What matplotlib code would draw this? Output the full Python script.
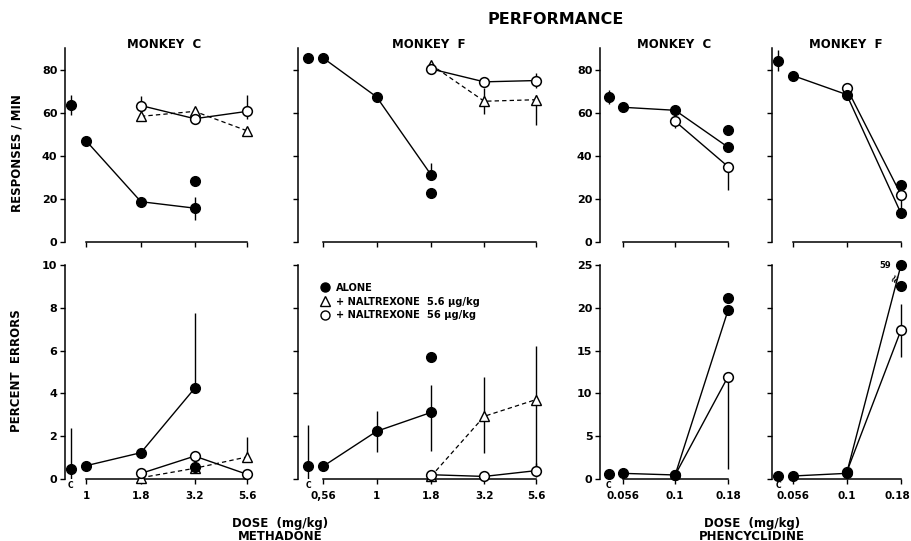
import numpy as np
import matplotlib
matplotlib.use("Agg")
import matplotlib.pyplot as plt
import matplotlib.transforms as mtransforms
from matplotlib.lines import Line2D

plt.rcParams['font.family'] = ['DejaVu Sans']
plt.rcParams['font.weight'] = 'bold'

W, H = 911, 541
nan = np.nan

# Doses (mg/kg) and tick labels
METH_C_DOSES = [1, 1.8, 3.2, 5.6]
METH_F_DOSES = [0.56, 1, 1.8, 3.2, 5.6]
PCP_DOSES = [0.056, 0.1, 0.18]
METH_C_LABELS = ['1', '1.8', '3.2', '5.6']
METH_F_LABELS = ['0,56', '1', '1.8', '3.2', '5.6']
PCP_LABELS = ['0.056', '0.1', '0.18']

MC_ALONE_DOSES = [1, 1.8, 3.2]
MC_NAL_DOSES = [1.8, 3.2, 5.6]
MC_EXTRA_DOSES = [3.2]
MF_ALONE_DOSES = [0.56, 1, 1.8]
MF_NAL_DOSES = [1.8, 3.2, 5.6]
MF_EXTRA_DOSES = [1.8]
PCP_ALONE_DOSES = [0.056, 0.1, 0.18]
PCP_NAL_DOSES = [0.1, 0.18]
PCP_EXTRA_DOSES = [0.18]

# Methadone, monkey C  (control = value, low, high)
mc_rate_ctrl = [63.5, 59.0, 68.0]
mc_rate_alone = [47.0, 18.7, 15.7]
mc_rate_alone_lo = [nan, nan, 10.0]
mc_rate_alone_hi = [nan, nan, 21.0]
mc_rate_alone_extra = [28.4]
mc_rate_nal5 = [58.3, 60.6, 51.6]
mc_rate_nal56 = [63.3, 57.2, 60.6]
mc_rate_nal56_lo = [nan, nan, 57.0]
mc_rate_nal56_hi = [67.6, nan, 68.0]

mc_err_ctrl = [0.48, 0.0, 2.37]
mc_err_alone = [0.62, 1.23, 4.24]
mc_err_alone_hi = [nan, nan, 7.74]
mc_err_alone_extra = [0.56]
mc_err_nal5 = [0.06, 0.5, 1.03]
mc_err_nal5_hi = [nan, nan, 1.98]
mc_err_nal56 = [0.26, 1.07, 0.22]

# Methadone, monkey F
mf_rate_ctrl = [85.4, nan, nan]
mf_rate_alone = [85.4, 67.3, 31.2]
mf_rate_alone_hi = [nan, nan, 36.7]
mf_rate_alone_extra = [22.6]
mf_rate_nal5 = [82.3, 65.3, 66.0]
mf_rate_nal5_lo = [nan, 59.5, 54.4]
mf_rate_nal5_hi = [nan, 71.6, 68.4]
mf_rate_nal56 = [80.3, 74.3, 74.9]
mf_rate_nal56_lo = [nan, nan, 71.6]
mf_rate_nal56_hi = [nan, nan, 78.6]

mf_err_ctrl = [0.59, 0.0, 2.54]
mf_err_alone = [0.59, 2.23, 3.11]
mf_err_alone_lo = [nan, 1.25, 1.29]
mf_err_alone_hi = [nan, 3.16, 4.41]
mf_err_alone_extra = [5.70]
mf_err_nal5 = [0.12, 2.93, 3.71]
mf_err_nal5_lo = [nan, 1.21, 0.1]
mf_err_nal5_hi = [nan, 4.77, 6.2]
mf_err_nal56 = [0.2, 0.12, 0.39]
mf_err_nal56_hi = [nan, nan, 0.75]

# Phencyclidine, monkey C
pc_rate_ctrl = [67.3, 64.0, 70.5]
pc_rate_alone = [62.5, 61.1, 44.0]
pc_rate_alone_extra = [51.8]
pc_rate_nal56 = [56.0, 35.0]
pc_rate_nal56_lo = [53.0, 23.9]

pc_err_ctrl = [0.58, nan, nan]
pc_err_alone = [0.66, 0.47, 19.7]
pc_err_alone_extra = [21.2]
pc_err_nal56 = [0.47, 11.95]
pc_err_nal56_lo = [nan, 1.2]

# Phencyclidine, monkey F
pf_rate_ctrl = [84.2, 79.5, 89.3]
pf_rate_alone = [77.2, 68.4, 13.3]
pf_rate_alone_extra = [26.5]
pf_rate_nal56 = [71.5, 21.9]
pf_rate_nal56_lo = [nan, 15.3]

pf_err_ctrl = [0.35, nan, nan]
pf_err_alone = [0.35, 0.66, 59.0]
pf_err_alone_extra = [22.5]
pf_err_nal56 = [0.78, 17.4]
pf_err_nal56_lo = [nan, 14.3]
pf_err_nal56_hi = [nan, 20.5]

STYLES = {
    'alone': dict(color='k', lw=1.0, ls='-', marker='o', ms=7, mfc='k', mec='k'),
    'nal5': dict(color='k', lw=0.9, ls=(0, (3.5, 2.5)), marker='^', ms=6.5, mfc='white', mec='k', mew=1.0),
    'nal56': dict(color='k', lw=1.0, ls='-', marker='o', ms=7, mfc='white', mec='k', mew=1.1),
    'extra': dict(ls='none', marker='o', ms=7, mfc='k', mec='k'),
}


def px_rect(x0, x1, y0, y1):
    return [x0 / W, 1 - y1 / H, (x1 - x0) / W, (y1 - y0) / H]


def log_xlim(x0, x1, d_first, d_last, p_first, p_last):
    a, b = np.log10(d_first), np.log10(d_last)
    s = (p_last - p_first) / (b - a)
    return 10 ** (a + (x0 - p_first) / s), 10 ** (a + (x1 - p_first) / s)


def draw(ax, doses, vals, kind, lo=None, hi=None, ymax=None):
    x = np.array(doses, float)
    y = np.array(vals, float)
    if ymax is not None:
        y = np.minimum(y, ymax)
    lo = np.full(len(y), nan) if lo is None else np.array(lo, float)
    hi = np.full(len(y), nan) if hi is None else np.array(hi, float)
    has = ~(np.isnan(lo) & np.isnan(hi))
    if has.any():
        ax.vlines(x[has], np.where(np.isnan(lo), y, lo)[has],
                  np.where(np.isnan(hi), y, hi)[has], color='k', lw=1.0, zorder=2)
    ax.plot(x, y, clip_on=False, zorder=3, **STYLES[kind])


def draw_ctrl(ax, dose0, ctrl):
    xc = dose0 / 10 ** 0.07
    if not np.isnan(ctrl[1]):
        ax.vlines([xc], [ctrl[1]], [ctrl[2]], color='k', lw=1.0, zorder=2)
    ax.plot([xc], [ctrl[0]], clip_on=False, zorder=3, **STYLES['extra'])


def setup(ax, doses, labels, ymax, yticks, show_y, show_x, xlim):
    ax.set_xscale('log')
    ax.set_xlim(*xlim)
    ax.set_ylim(0, ymax)
    ax.patch.set_alpha(0)
    for s in ('top', 'right'):
        ax.spines[s].set_visible(False)
    ax.spines['bottom'].set_bounds(doses[0], doses[-1])
    ax.spines['left'].set_linewidth(1.1)
    ax.spines['bottom'].set_linewidth(1.1)
    ax.minorticks_off()
    ax.set_xticks(doses)
    ax.set_xticklabels(labels if show_x else [])
    ax.set_yticks(yticks)
    ax.set_yticklabels([str(t) for t in yticks] if show_y else [])
    ax.tick_params(direction='out', length=3.5, width=1, labelsize=8, pad=2)
    ax.tick_params(axis='x', pad=5, labelsize=7.5)


fig = plt.figure(figsize=(W / 100, H / 100), dpi=100)

# (spine px, right px, doses, labels, first-dose px, last-dose px)
cols = [
    (65, 260, METH_C_DOSES, METH_C_LABELS, 86, 247),
    (298, 548, METH_F_DOSES, METH_F_LABELS, 323, 536),
    (600, 740, PCP_DOSES, PCP_LABELS, 623, 728),
    (772, 908, PCP_DOSES, PCP_LABELS, 793, 901),
]

top_axes, bot_axes = [], []
for i, (x0, x1, doses, labels, p0, p1) in enumerate(cols):
    xlim = log_xlim(x0, x1, doses[0], doses[-1], p0, p1)
    at = fig.add_axes(px_rect(x0, x1, 48, 242))
    setup(at, doses, labels, 90, [0, 20, 40, 60, 80], i in (0, 2), False, xlim)
    ab = fig.add_axes(px_rect(x0, x1, 265, 479))
    if i < 2:
        setup(ab, doses, labels, 10, [0, 2, 4, 6, 8, 10], i == 0, True, xlim)
    else:
        setup(ab, doses, labels, 25, [0, 5, 10, 15, 20, 25], i == 2, True, xlim)
    top_axes.append(at)
    bot_axes.append(ab)

# last label sits against the right edge: nudge it left a little
last = bot_axes[3].get_xticklabels()[-1]
last.set_transform(last.get_transform() + mtransforms.ScaledTranslation(-4 / 100, 0, fig.dpi_scale_trans))

# Methadone monkey C
ax = top_axes[0]
draw_ctrl(ax, METH_C_DOSES[0], mc_rate_ctrl)
draw(ax, MC_NAL_DOSES, mc_rate_nal5, 'nal5')
draw(ax, MC_NAL_DOSES, mc_rate_nal56, 'nal56', mc_rate_nal56_lo, mc_rate_nal56_hi)
draw(ax, MC_ALONE_DOSES, mc_rate_alone, 'alone', mc_rate_alone_lo, mc_rate_alone_hi)
draw(ax, MC_EXTRA_DOSES, mc_rate_alone_extra, 'extra')
ax = bot_axes[0]
draw_ctrl(ax, METH_C_DOSES[0], mc_err_ctrl)
draw(ax, MC_NAL_DOSES, mc_err_nal5, 'nal5', None, mc_err_nal5_hi)
draw(ax, MC_NAL_DOSES, mc_err_nal56, 'nal56')
draw(ax, MC_ALONE_DOSES, mc_err_alone, 'alone', None, mc_err_alone_hi)
draw(ax, MC_EXTRA_DOSES, mc_err_alone_extra, 'extra')

# Methadone monkey F
ax = top_axes[1]
draw_ctrl(ax, METH_F_DOSES[0], mf_rate_ctrl)
draw(ax, MF_NAL_DOSES, mf_rate_nal5, 'nal5', mf_rate_nal5_lo, mf_rate_nal5_hi)
draw(ax, MF_NAL_DOSES, mf_rate_nal56, 'nal56', mf_rate_nal56_lo, mf_rate_nal56_hi)
draw(ax, MF_ALONE_DOSES, mf_rate_alone, 'alone', None, mf_rate_alone_hi)
draw(ax, MF_EXTRA_DOSES, mf_rate_alone_extra, 'extra')
ax = bot_axes[1]
draw_ctrl(ax, METH_F_DOSES[0], mf_err_ctrl)
draw(ax, MF_NAL_DOSES, mf_err_nal5, 'nal5', mf_err_nal5_lo, mf_err_nal5_hi)
draw(ax, MF_NAL_DOSES, mf_err_nal56, 'nal56', None, mf_err_nal56_hi)
draw(ax, MF_ALONE_DOSES, mf_err_alone, 'alone', mf_err_alone_lo, mf_err_alone_hi)
draw(ax, MF_EXTRA_DOSES, mf_err_alone_extra, 'extra')

handles = [Line2D([], [], ls='none', marker='o', ms=6.5, mfc='k', mec='k'),
           Line2D([], [], ls='none', marker='^', ms=6.5, mfc='white', mec='k'),
           Line2D([], [], ls='none', marker='o', ms=6.5, mfc='white', mec='k')]
ax.legend(handles, ['ALONE', '+ NALTREXONE  5.6 \u00b5g/kg', '+ NALTREXONE  56 \u00b5g/kg'],
          loc='upper left', bbox_to_anchor=(0.065, 0.95), frameon=False,
          prop=dict(size=7.1, weight='bold'), handlelength=0.8, handletextpad=0.7,
          labelspacing=0.4, borderpad=0.2)

# Phencyclidine monkey C
ax = top_axes[2]
draw_ctrl(ax, PCP_DOSES[0], pc_rate_ctrl)
draw(ax, PCP_NAL_DOSES, pc_rate_nal56, 'nal56', pc_rate_nal56_lo)
draw(ax, PCP_ALONE_DOSES, pc_rate_alone, 'alone')
draw(ax, PCP_EXTRA_DOSES, pc_rate_alone_extra, 'extra')
ax = bot_axes[2]
draw_ctrl(ax, PCP_DOSES[0], pc_err_ctrl)
draw(ax, PCP_NAL_DOSES, pc_err_nal56, 'nal56', pc_err_nal56_lo)
draw(ax, PCP_ALONE_DOSES, pc_err_alone, 'alone')
draw(ax, PCP_EXTRA_DOSES, pc_err_alone_extra, 'extra')

# Phencyclidine monkey F
ax = top_axes[3]
draw_ctrl(ax, PCP_DOSES[0], pf_rate_ctrl)
draw(ax, PCP_NAL_DOSES, pf_rate_nal56, 'nal56', pf_rate_nal56_lo)
draw(ax, PCP_ALONE_DOSES, pf_rate_alone, 'alone')
draw(ax, PCP_EXTRA_DOSES, pf_rate_alone_extra, 'extra')
ax = bot_axes[3]
draw_ctrl(ax, PCP_DOSES[0], pf_err_ctrl)
draw(ax, PCP_NAL_DOSES, pf_err_nal56, 'nal56', pf_err_nal56_lo, pf_err_nal56_hi)
draw(ax, PCP_ALONE_DOSES, pf_err_alone, 'alone', ymax=25)
draw(ax, PCP_EXTRA_DOSES, pf_err_alone_extra, 'extra')
ax.annotate(f'{pf_err_alone[-1]:.0f}', xy=(PCP_ALONE_DOSES[-1], 25), xytext=(-7, 0),
            textcoords='offset points', ha='right', va='center', fontsize=6)
ax.annotate('\u2248', xy=(PCP_ALONE_DOSES[-1], 23.5), xytext=(-4, 0),
            textcoords='offset points', ha='center', va='center', fontsize=8, rotation=60)

# "C" control labels just under the axis line
for ab, (x0, x1, doses, labels, p0, p1) in zip(bot_axes, cols):
    ab.annotate('C', xy=(doses[0] / 10 ** 0.07, 0), xytext=(0, -1.5), textcoords='offset points',
                ha='center', va='top', fontsize=5.5)


def ftext(x, y, s, **kw):
    fig.text(x / W, 1 - y / H, s, ha='center', va='center', **kw)


ftext(556, 20, 'PERFORMANCE', fontsize=11.5)
for x, name in [(164, 'MONKEY  C'), (429, 'MONKEY  F'), (674, 'MONKEY  C'), (846, 'MONKEY  F')]:
    ftext(x, 45, name, fontsize=8.5)
ftext(17, 153, 'RESPONSES / MIN', fontsize=8.5, rotation=90)
ftext(17, 371, 'PERCENT  ERRORS', fontsize=8.5, rotation=90)
ftext(280, 523, 'DOSE  (mg/kg)', fontsize=8.5)
ftext(280, 536, 'METHADONE', fontsize=8.5)
ftext(752, 523, 'DOSE  (mg/kg)', fontsize=8.5)
ftext(752, 536, 'PHENCYCLIDINE', fontsize=8.5)

fig.savefig('out.png', dpi=100)
